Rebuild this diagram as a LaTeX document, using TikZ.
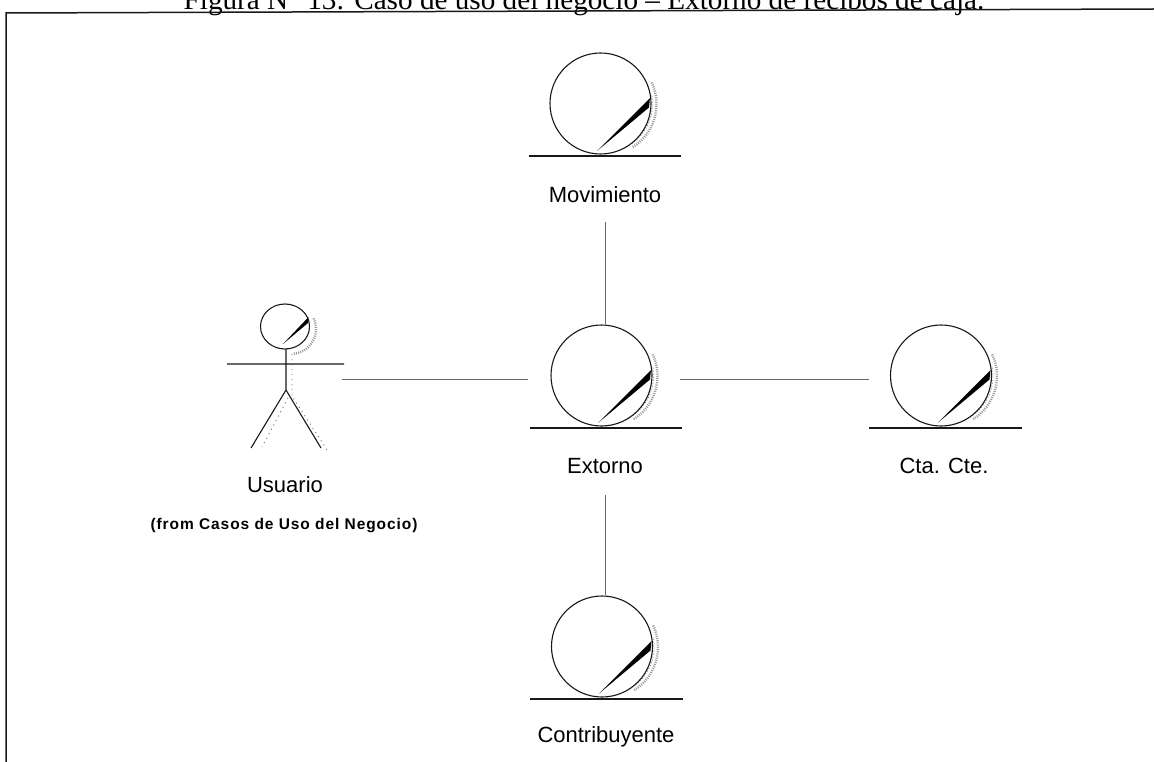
\documentclass[tikz,border=0pt]{standalone}
\usepackage{fontspec}
\setmainfont{Liberation Serif}
\newfontfamily\labelfont{Liberation Sans}
\newfontfamily\fromfont[LetterSpace=6]{Liberation Sans}
\tikzset{
 x=1pt,y=-1pt,
 ln/.style={line width=1.1pt,black!90},
 conn/.style={line width=1pt,black!60},
 lbl/.style={font=\labelfont\fontsize{22}{24}\selectfont,inner sep=0pt,anchor=center},
 shadea/.style={line width=2.4pt,black!40,dash pattern=on 1pt off 1.2pt},
 shadeb/.style={line width=0.9pt,black!45,dash pattern=on 1pt off 2pt},
 dots/.style={line width=0.9pt,black!55,dash pattern=on 1pt off 4pt},
 entity/.pic={
  \draw[shadea] ([shift={(5,-52)}]-25:51) arc[start angle=-25,end angle=58,radius=51];
  \draw[shadeb] ([shift={(4,-52)}]-10:48) arc[start angle=-10,end angle=68,radius=48];
  \draw[ln,fill=white] (0,-52.5) circle[radius=50.5];
  \fill[black] (-3.5,-5) -- (49.5,-58) -- (48.5,-48.5) -- cycle;
  \draw[ln] (-72,0) -- (80.5,0);
 },
}
\begin{document}
\begin{tikzpicture}
\useasboundingbox (0,0) rectangle (1154,762);
\fill[white] (0,0) rectangle (1154,762);
\node[font=\fontsize{29.2}{31}\selectfont,inner sep=0pt,anchor=base] (title) at (584,10) {Figura N° 13: Caso de uso del negocio – Extorno de recibos de caja.};
\draw[line width=1.5pt,black!90] (6,762) -- (6,13) -- (1154,9);
\pic at (600.5,156) {entity};
\pic at (601.5,428) {entity};
\pic at (602,699) {entity};
\pic at (941,428) {entity};
\node[lbl] (mov) at (605,195) {Movimiento};
\node[lbl] (ext) at (605,466) {Extorno};
\node[lbl] (cta) at (944,466) {Cta. Cte.};
\node[lbl] (con) at (606,737) {Contribuyente};
\node[lbl] (usu) at (285,485) {Usuario};
\node[font=\fromfont\bfseries\fontsize{15.5}{17}\selectfont,inner sep=0pt] (from) at (284,526) {(from Casos de Uso del Negocio)};
% actor
\draw[shadea] ([shift={(291,329)}]-25:25) arc[start angle=-25,end angle=85,radius=25];
\draw[dots] (292,354) -- (292,396) -- (327,450);
\draw[dots] (288,398) -- (262,447);
\draw[ln,fill=white] (285,326.5) ellipse[x radius=24.5,y radius=22.5];
\fill[black] (283,344) -- (308.5,317) -- (308,323) -- cycle;
\draw[ln] (286,349) -- (286,390) (227,364) -- (344,364) (251,448) -- (286,390) -- (321,448);
% connectors
\coordinate (a1) at (342,379); \coordinate (a2) at (528,379);
\coordinate (b1) at (680,379); \coordinate (b2) at (869,379);
\coordinate (c1) at (605,222); \coordinate (c2) at (605,324);
\coordinate (d1) at (605,495); \coordinate (d2) at (605,595);
\draw[conn] (a1) -- (a2);
\draw[conn] (b1) -- (b2);
\draw[conn] (c1) -- (c2);
\draw[conn] (d1) -- (d2);
\end{tikzpicture}
\end{document}
